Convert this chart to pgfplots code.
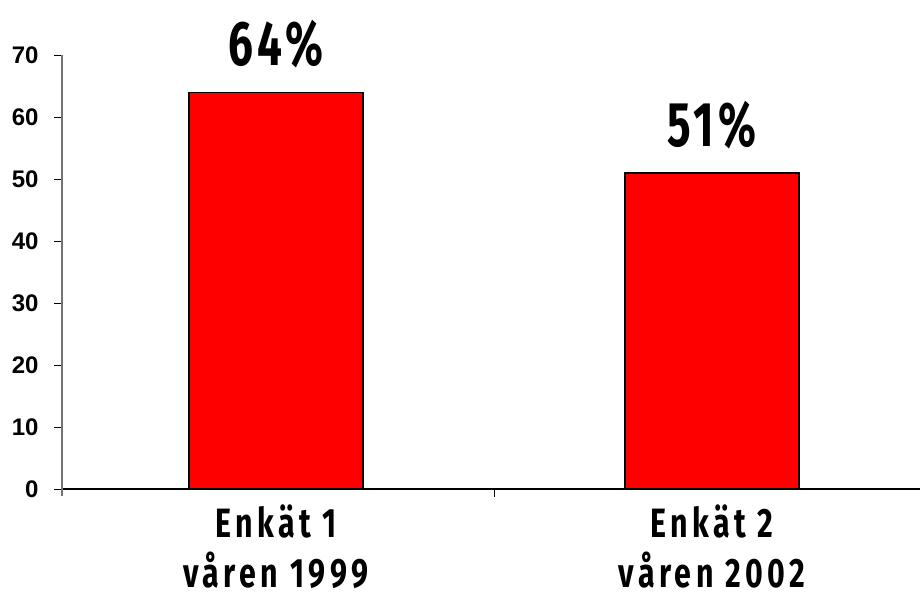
\documentclass[border=0pt]{standalone}
\usepackage{pgfplots}
\pgfplotsset{compat=1.18}
\usepackage{fontspec}
\setmainfont{Liberation Sans}
\newfontfamily\cond[FakeStretch=0.74,LetterSpace=11]{Fira Sans}
\newfontfamily\condp[FakeStretch=0.7,LetterSpace=7]{Fira Sans}
\begin{document}
\begin{tikzpicture}
\useasboundingbox (-62pt,-111pt) rectangle (858pt,489pt);
\begin{axis}[
  at={(0,0)}, anchor=south west,
  scale only axis, width=858pt, height=434pt,
  xmin=-0.491, xmax=1.477, ymin=0, ymax=70,
  axis lines=left, axis line style={-},
  x axis line style={black, line width=1.2pt},
  y axis line style={gray!90!black, line width=1.4pt, shorten <=-7pt},
  /pgf/number format/assume math mode=true,
  ytick={0,10,...,70},
  yticklabel style={font=\fontsize{24}{26}\selectfont\bfseries, xshift=-12pt},
  tick align=outside,
  major tick length=8pt,
  tick style={black, line width=1pt},
  xtick={0,1},
  xticklabels={{Enkät 1\\våren 1999},{Enkät 2\\våren 2002}},
  xticklabel style={font=\cond\fontsize{41}{50}\selectfont\bfseries, align=center, yshift=-4pt},
  major x tick style={draw=none},
  extra x ticks={0.5},
  extra x tick labels={},
  extra x tick style={major x tick style={draw=black, line width=1pt}},
  ybar, bar width=174pt,
  nodes near coords={\pgfmathprintnumber{\pgfplotspointmeta}\%},
  every node near coord/.append style={font=\condp\fontsize{63}{66}\selectfont\bfseries, yshift=20pt, black},
  clip=false,
]
\addplot[fill=red, draw=black, line width=1.4pt] coordinates {(0,64) (1,51)};
\end{axis}
\end{tikzpicture}
\end{document}
